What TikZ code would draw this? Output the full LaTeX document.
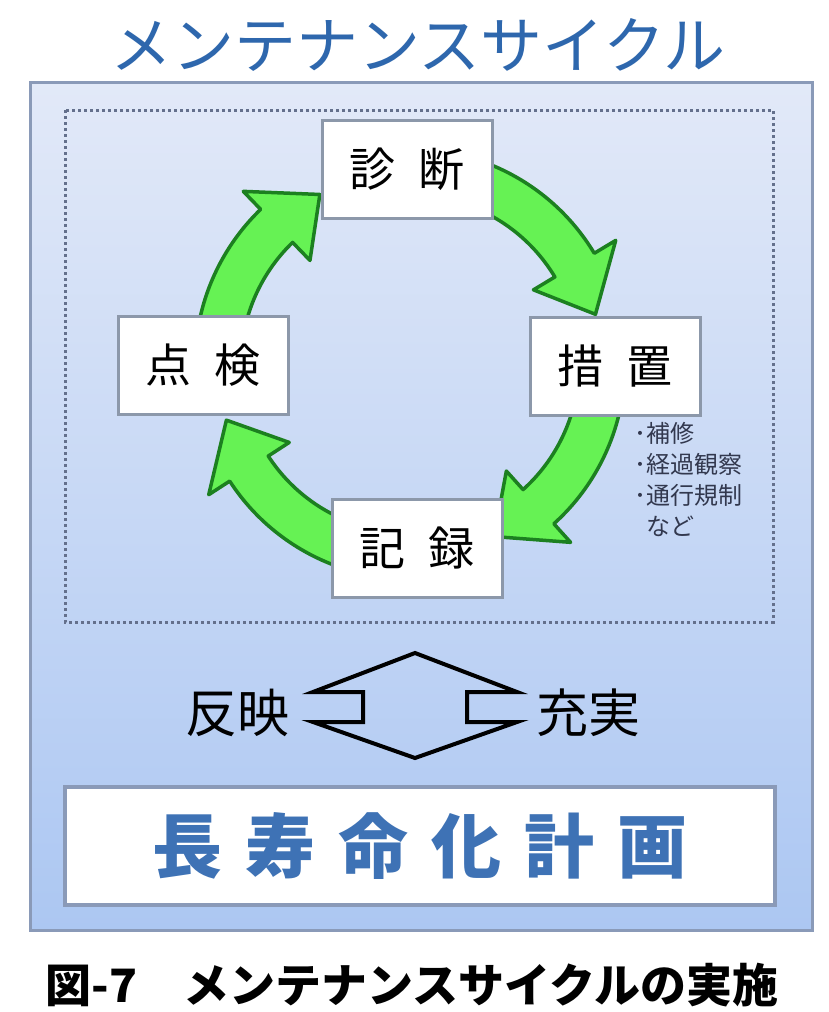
\documentclass[tikz,border=0pt]{standalone}
\usepackage{fontspec}
\setmainfont{Noto Sans CJK JP}
\usepackage{tikz}
\usetikzlibrary{calc}
\definecolor{titleblue}{RGB}{46,103,173}
\definecolor{planblue}{RGB}{62,114,181}
\definecolor{panelline}{RGB}{138,154,184}
\definecolor{paneltop}{RGB}{226,233,248}
\definecolor{panelbot}{RGB}{172,199,242}
\definecolor{dotline}{RGB}{100,112,140}
\definecolor{boxline}{RGB}{140,152,170}
\definecolor{arrowfill}{RGB}{102,242,84}
\definecolor{arrowline}{RGB}{28,128,32}
\definecolor{notegray}{RGB}{50,56,78}

\begin{document}
\begin{tikzpicture}[x=1pt, y=-1pt,
  stepbox/.style={draw=boxline, line width=3pt, fill=white, minimum width=170pt, minimum height=98pt, inner sep=0pt, font=\fontsize{46}{50}\selectfont},
  grarrow/.style={fill=arrowfill, draw=arrowline, line width=3.5pt, line join=round}]
 \useasboundingbox (0,0) rectangle (829,1012);
 \fill[white] (0,0) rectangle (829,1012);

 \node[text=titleblue, font=\fontsize{62}{66}\selectfont] (title) at (418,45) {メンテナンスサイクル};

 \draw[panelline, line width=3pt, top color=paneltop, bottom color=panelbot] (30,82) rectangle (812,930);
 \draw[dotline, line width=3pt, dash pattern=on 3pt off 3pt] (65,110) rectangle (773,622);

 % cycle
 \coordinate (cyc) at (410,364);
 \draw[grarrow] ($(cyc)+(190:215)$) arc[start angle=190, end angle=226, radius=215] -- ($(cyc)+(226:240)$) -- ($(cyc)+(242:192)$) -- ($(cyc)+(226:144)$) -- ($(cyc)+(226:169)$) arc[start angle=226, end angle=190, radius=169] -- cycle;
 \draw[grarrow] ($(cyc)+(290:215)$) arc[start angle=290, end angle=329, radius=215] -- ($(cyc)+(329:240)$) -- ($(cyc)+(345:192)$) -- ($(cyc)+(329:144)$) -- ($(cyc)+(329:169)$) arc[start angle=329, end angle=290, radius=169] -- cycle;
 \draw[grarrow] ($(cyc)+(12:215)$) arc[start angle=12, end angle=48, radius=215] -- ($(cyc)+(48:240)$) -- ($(cyc)+(64:192)$) -- ($(cyc)+(48:144)$) -- ($(cyc)+(48:169)$) arc[start angle=48, end angle=12, radius=169] -- cycle;
 \draw[grarrow] ($(cyc)+(108:215)$) arc[start angle=108, end angle=147, radius=215] -- ($(cyc)+(147:240)$) -- ($(cyc)+(163:192)$) -- ($(cyc)+(147:144)$) -- ($(cyc)+(147:169)$) arc[start angle=147, end angle=108, radius=169] -- cycle;

 \node[stepbox] (shindan) at (407,169) {診\kern.5em断};
 \node[stepbox] (tenken) at (203,365) {点\kern.5em検};
 \node[stepbox] (sochi) at (615,366) {措\kern.5em置};
 \node[stepbox] (kiroku) at (417,548) {記\kern.5em録};
 \node[anchor=north west, align=left, text=notegray, inner sep=0pt, font=\fontsize{24}{31}\selectfont] (note) at (634,422) {･補修\\･経過観察\\･通行規制\\\phantom{･}など};

 % reflect / enrich
 \draw[line width=4pt, line join=miter] (313,692) -- (415,653) -- (517,692) -- (467,692) -- (467,722) -- (517,722) -- (415,758) -- (313,722) -- (363,722) -- (363,692) -- cycle;
 \node[font=\fontsize{52}{56}\selectfont] (hanei) at (237,713) {反映};
 \node[font=\fontsize{52}{56}\selectfont] (juujitsu) at (588,713) {充実};

 \node[draw=panelline, line width=4pt, fill=white, minimum width=710pt, minimum height=118pt, text=planblue, font=\bfseries\fontsize{70}{74}\selectfont] (plan) at (420,846) {長\kern.33em寿\kern.33em命\kern.33em化\kern.33em計\kern.33em画};

 \node[font=\bfseries\fontsize{46}{50}\selectfont] (caption) at (412,985) {図-7　メンテナンスサイクルの実施};
\end{tikzpicture}
\end{document}
